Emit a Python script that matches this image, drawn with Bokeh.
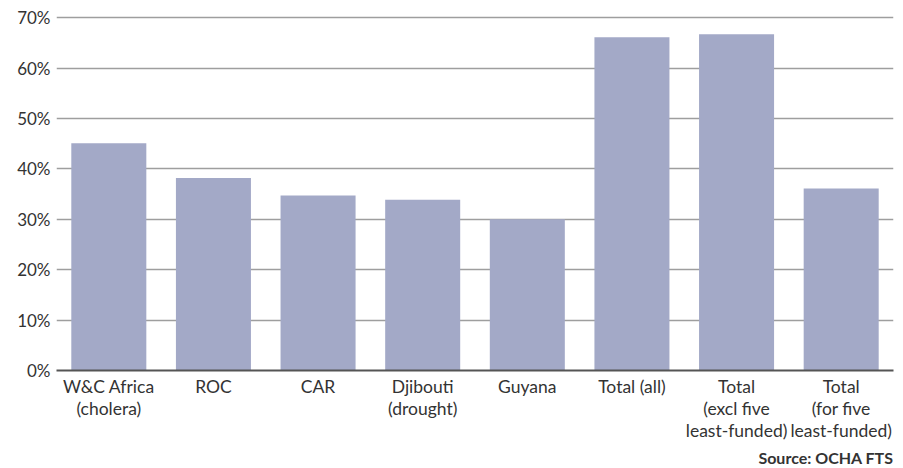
from bokeh.plotting import figure
from bokeh.models import ColumnDataSource, PrintfTickFormatter, FixedTicker, Title, Range1d
from bokeh.embed import file_html
from bokeh.resources import INLINE

# Share of requirements funded, by appeal
categories = [
    "W&C Africa\n(cholera)",
    "ROC",
    "CAR",
    "Djibouti\n(drought)",
    "Guyana",
    "Total (all)",
    "Total\n(excl five\nleast-funded)",
    "Total\n(for five\nleast-funded)",
]
funded_pct = [45.1, 38.2, 34.7, 33.9, 30.0, 66.1, 66.7, 36.1]
y_ticks = [0, 10, 20, 30, 40, 50, 60, 70]

FONT = "Lato"
TEXT = "#333333"

source = ColumnDataSource(data=dict(cat=categories, pct=funded_pct))

p = figure(
    x_range=categories,
    y_range=Range1d(0, 72.22),
    width=903,
    height=468,
    output_backend="svg",
    toolbar_location=None,
    min_border_left=56,
    min_border_right=10,
    min_border_top=6,
    min_border_bottom=0,
)

p.vbar(x="cat", top="pct", width=0.717, source=source,
       fill_color="#A3A9C7", line_color=None)

p.outline_line_color = None
p.background_fill_color = "white"
p.border_fill_color = "white"

# Horizontal grid only
p.xgrid.grid_line_color = None
p.ygrid.grid_line_color = "#9E9E9E"
p.ygrid.grid_line_width = 1.5
p.ygrid.ticker = FixedTicker(ticks=y_ticks)

# Y axis: labels only
p.yaxis.ticker = FixedTicker(ticks=y_ticks)
p.yaxis.formatter = PrintfTickFormatter(format="%d%%")
p.yaxis.axis_line_color = None
p.yaxis.major_tick_line_color = None
p.yaxis.minor_tick_line_color = None
p.yaxis.major_tick_out = 0
p.yaxis.major_label_standoff = 6
p.yaxis.major_label_text_font = FONT
p.yaxis.major_label_text_font_size = "17px"
p.yaxis.major_label_text_color = TEXT

# X axis: dark baseline with wrapped category labels
p.xaxis.axis_line_color = "#555555"
p.xaxis.axis_line_width = 2
p.xaxis.major_tick_line_color = None
p.xaxis.minor_tick_line_color = None
p.xaxis.major_tick_out = 0
p.xaxis.major_tick_in = 0
p.xaxis.major_label_standoff = 5
p.xaxis.major_label_text_font = FONT
p.xaxis.major_label_text_font_size = "17.5px"
p.xaxis.major_label_text_color = TEXT
p.xaxis.major_label_text_line_height = 1.05

# Source note under the bottom-right corner of the plot
src_note = Title(text="Source: OCHA FTS", align="right", standoff=4,
                 text_font=FONT, text_font_size="16px",
                 text_font_style="bold", text_color=TEXT)
p.add_layout(src_note, "below")

open("out.html", "w").write(file_html(p, INLINE))
